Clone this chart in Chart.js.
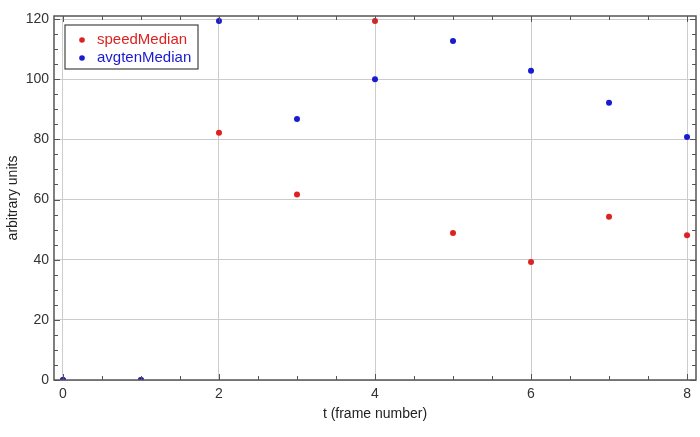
<!DOCTYPE html>
<html>
<head>
<meta charset="utf-8">
<script src="https://cdn.jsdelivr.net/npm/chart.js@4.4.1/dist/chart.umd.min.js"></script>
<style>
  html, body { margin: 0; padding: 0; background: #fff; }
  #wrap { width: 700px; height: 437px; }
</style>
</head>
<body>
<div id="wrap"><canvas id="mycanvas"></canvas></div>
<script>
var frames = [0, 1, 2, 3, 4, 5, 6, 7, 8];
var speedMedian = [0, 0, 82.2, 61.7, 119.3, 48.9, 39.2, 54.3, 48.1];
var avgtenMedian = [0, 0, 119.3, 86.8, 100, 112.7, 102.8, 92.2, 80.8];
var xTicks = [0, 2, 4, 6, 8];
var yTicks = [0, 20, 40, 60, 80, 100, 120];

function pts(ys) {
  return frames.map(function (x, i) { return { x: x, y: ys[i] }; });
}

// frame, minor ticks and legend box drawn over the plot
var framePlugin = {
  id: 'frame',
  afterDraw: function (chart) {
    var ctx = chart.ctx, a = chart.chartArea;
    var xs = chart.scales.x, ys = chart.scales.y;
    ctx.save();
    ctx.strokeStyle = '#555';
    ctx.lineWidth = 1;
    ctx.beginPath();
    for (var v = 0; v <= 8; v += 0.5) {
      var px = Math.round(xs.getPixelForValue(v)) + 0.5;
      var len = (v % 2 === 0) ? 6 : 4;
      ctx.moveTo(px, a.bottom); ctx.lineTo(px, a.bottom - len);
      ctx.moveTo(px, a.top); ctx.lineTo(px, a.top + len);
    }
    for (var w = 0; w <= 120; w += 5) {
      var py = Math.round(ys.getPixelForValue(w)) + 0.5;
      var l2 = (w % 20 === 0) ? 6 : 4;
      ctx.moveTo(a.left, py); ctx.lineTo(a.left + l2, py);
      ctx.moveTo(a.right, py); ctx.lineTo(a.right - l2, py);
    }
    ctx.stroke();
    ctx.lineWidth = 1.5;
    ctx.strokeRect(a.left, a.top, a.right - a.left, a.bottom - a.top);

    // legend
    var lx = a.left + 11, ly = a.top + 9;
    ctx.fillStyle = '#fff';
    ctx.fillRect(lx, ly, 133, 44);
    ctx.strokeStyle = '#444';
    ctx.lineWidth = 1.2;
    ctx.strokeRect(lx, ly, 133, 44);
    ctx.font = '15px "Liberation Sans", Arial, sans-serif';
    ctx.textBaseline = 'middle';
    chart.data.datasets.forEach(function (ds, i) {
      var cy = ly + 15 + i * 18;
      ctx.fillStyle = ds.backgroundColor;
      ctx.beginPath();
      ctx.arc(lx + 17, cy, 2.8, 0, Math.PI * 2);
      ctx.fill();
      ctx.fillText(ds.label, lx + 32, cy);
    });
    ctx.restore();
  }
};

var chartdata = {
  datasets: [
    {
      label: 'speedMedian',
      data: pts(speedMedian),
      backgroundColor: '#dd2222',
      pointRadius: 3,
      pointBorderWidth: 0,
      order: 1,
      clip: 0
    },
    {
      label: 'avgtenMedian',
      data: pts(avgtenMedian),
      backgroundColor: '#1a1ad0',
      pointRadius: 3,
      pointBorderWidth: 0,
      order: 0,
      clip: 0
    }
  ]
};

var ctx = document.getElementById('mycanvas');
var chart = new Chart(ctx, {
  type: 'scatter',
  data: chartdata,
  options: {
    responsive: true,
    maintainAspectRatio: false,
    animation: false,
    layout: { padding: { top: 16, right: 3, left: 0, bottom: 0 } },
    plugins: { legend: { display: false }, tooltip: { enabled: false } },
    scales: {
      x: {
        type: 'linear',
        min: -0.115,
        max: 8.115,
        afterBuildTicks: function (s) { s.ticks = xTicks.map(function (v) { return { value: v }; }); },
        afterFit: function (s) { s.height = 57; },
        grid: { color: '#cccccc', tickLength: 0, drawTicks: false },
        border: { display: false },
        ticks: { padding: 6, color: '#333', font: { family: 'Liberation Sans', size: 14 }, maxRotation: 0 },
        title: { display: true, text: 't (frame number)', color: '#222', font: { family: 'Liberation Sans', size: 14 }, padding: { top: 0, bottom: 14 } }
      },
      y: {
        type: 'linear',
        min: 0,
        max: 121,
        afterBuildTicks: function (s) { s.ticks = yTicks.map(function (v) { return { value: v }; }); },
        afterFit: function (s) { s.width = 54; },
        grid: { color: '#cccccc', tickLength: 0, drawTicks: false },
        border: { display: false },
        ticks: { padding: 5, color: '#333', font: { family: 'Liberation Sans', size: 14 } },
        title: { display: true, text: 'arbitrary units', color: '#222', font: { family: 'Liberation Sans', size: 14 }, padding: { top: 5, bottom: 0 } }
      }
    }
  },
  plugins: [framePlugin]
});
</script>
</body>
</html>
